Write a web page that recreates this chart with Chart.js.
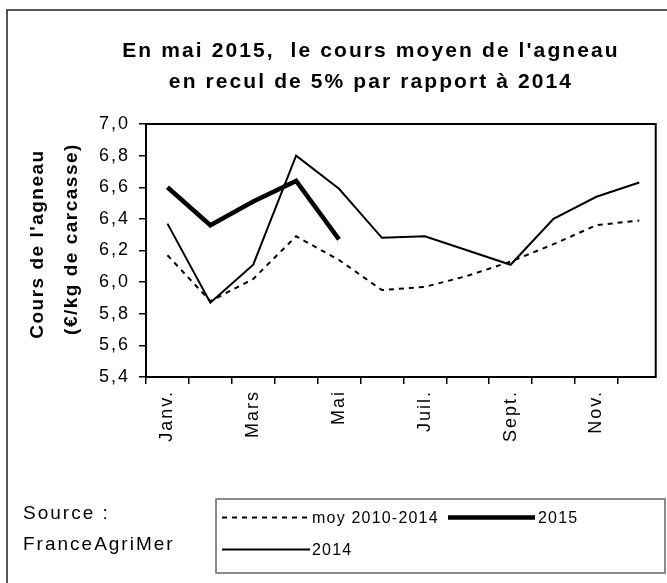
<!DOCTYPE html>
<html>
<head>
<meta charset="utf-8">
<script src="https://cdn.jsdelivr.net/npm/chart.js@4"></script>
<style>
  body { margin: 0; background: #fff; }
  canvas { display: block; }
</style>
</head>
<body>
<canvas id="agneauChart" width="667" height="583"></canvas>
<script>
// Données (€/kg de carcasse)
var mois = ['Janv.', 'Févr.', 'Mars', 'Avr.', 'Mai', 'Juin', 'Juil.', 'Août', 'Sept.', 'Oct.', 'Nov.', 'Déc.'];
var moisAffiches = ['Janv.', '', 'Mars', '', 'Mai', '', 'Juil.', '', 'Sept.', '', 'Nov.', ''];
var moy20102014 = [6.17, 5.88, 6.02, 6.29, 6.14, 5.95, 5.97, 6.04, 6.13, 6.24, 6.36, 6.39];
var cours2015 = [6.60, 6.36, 6.51, 6.64, 6.27, null, null, null, null, null, null, null];
var cours2014 = [6.37, 5.87, 6.11, 6.80, 6.59, 6.28, 6.29, 6.20, 6.11, 6.40, 6.54, 6.63];
var yMin = 5.4, yMax = 7.0, yPas = 0.2;

var titre = ["En mai 2015,  le cours moyen de l'agneau", "en recul de 5% par rapport à 2014"];
var titreAxe = ["Cours de l'agneau", "(€/kg de carcasse)"];
var source = ['Source :', 'FranceAgriMer'];
var legende = ['moy 2010-2014', '2015', '2014'];

var police = "'Liberation Sans', Arial, sans-serif";

// Dessin du cadre, des titres, de la source et de la légende
var decor = {
    id: 'decor',
    beforeDraw: function(chart) {
        chart.ctx.letterSpacing = '2px';
    },
    afterDraw: function(chart) {
        var ctx = chart.ctx;
        var a = chart.chartArea;
        ctx.save();

        // cadre extérieur (coupé à droite et en bas)
        ctx.strokeStyle = '#222';
        ctx.lineWidth = 1.5;
        ctx.beginPath();
        ctx.moveTo(7, 583);
        ctx.lineTo(7, 10);
        ctx.lineTo(667, 10);
        ctx.stroke();

        // cadre de la zone de tracé
        ctx.strokeStyle = '#000';
        ctx.lineWidth = 2;
        ctx.strokeRect(a.left, a.top, a.right - 5 - a.left, a.bottom - a.top);

        ctx.fillStyle = '#000';

        // titre
        ctx.font = 'bold 21px ' + police;
        ctx.letterSpacing = '2.1px';
        ctx.textAlign = 'center';
        ctx.textBaseline = 'alphabetic';
        ctx.fillText(titre[0], 371, 57);
        ctx.fillText(titre[1], 371, 88);

        // titre de l'axe vertical
        ctx.font = 'bold 19px ' + police;
        ctx.letterSpacing = '1.5px';
        ctx.textBaseline = 'middle';
        ctx.save();
        ctx.translate(38, 244);
        ctx.rotate(-Math.PI / 2);
        ctx.fillText(titreAxe[0], 0, 0);
        ctx.restore();
        ctx.save();
        ctx.translate(72, 239);
        ctx.rotate(-Math.PI / 2);
        ctx.fillText(titreAxe[1], 0, 0);
        ctx.restore();

        // source
        ctx.font = '19px ' + police;
        ctx.letterSpacing = '2px';
        ctx.textAlign = 'left';
        ctx.textBaseline = 'alphabetic';
        ctx.fillText(source[0], 23, 519);
        ctx.fillText(source[1], 23, 550);

        // légende
        ctx.strokeStyle = '#666';
        ctx.lineWidth = 1.5;
        ctx.strokeRect(216, 499, 449, 74);

        var ds = chart.data.datasets;
        var lignes = [
            { x1: 222, x2: 307, y: 517.5, tx: 312, d: ds[0], t: legende[0] },
            { x1: 448, x2: 535, y: 517.5, tx: 538, d: ds[1], t: legende[1] },
            { x1: 222, x2: 310, y: 549.5, tx: 312, d: ds[2], t: legende[2] }
        ];
        ctx.font = '16px ' + police;
        ctx.letterSpacing = '1.2px';
        ctx.textBaseline = 'middle';
        lignes.forEach(function(l) {
            ctx.strokeStyle = l.d.borderColor;
            ctx.lineWidth = l.d.borderWidth;
            ctx.setLineDash(l.d.borderDash || []);
            ctx.beginPath();
            ctx.moveTo(l.x1, l.y);
            ctx.lineTo(l.x2, l.y);
            ctx.stroke();
            ctx.setLineDash([]);
            ctx.fillText(l.t, l.tx, l.y + 1);
        });

        ctx.restore();
        ctx.letterSpacing = '0px';
    }
};

var ctx = document.getElementById('agneauChart').getContext('2d');
var agneauChart = new Chart(ctx, {
    type: 'line',
    data: {
        labels: mois,
        datasets: [{
            label: legende[0],
            data: moy20102014,
            borderColor: '#000',
            borderWidth: 2,
            borderDash: [5, 5],
            pointRadius: 0,
            tension: 0
        },
        {
            label: legende[1],
            data: cours2015,
            borderColor: '#000',
            borderWidth: 4.5,
            pointRadius: 0,
            tension: 0,
            spanGaps: false
        },
        {
            label: legende[2],
            data: cours2014,
            borderColor: '#000',
            borderWidth: 2,
            pointRadius: 0,
            tension: 0
        }]
    },
    options: {
        responsive: false,
        devicePixelRatio: 1,
        animation: false,
        layout: {
            padding: { top: 124, right: 3, bottom: 106, left: 0 }
        },
        plugins: {
            legend: { display: false },
            title: { display: false },
            tooltip: { enabled: false }
        },
        scales: {
            x: {
                offset: true,
                border: { display: false },
                grid: {
                    offset: true,
                    drawOnChartArea: false,
                    tickLength: 7,
                    lineWidth: 1.5,
                    color: function(c) { return c.type === 'tick' ? '#000' : 'rgba(0,0,0,0)'; }
                },
                ticks: {
                    autoSkip: false,
                    minRotation: 90,
                    maxRotation: 90,
                    padding: 6,
                    color: '#000',
                    font: { family: police, size: 18 },
                    callback: function(v, i) { return moisAffiches[i]; }
                },
                afterFit: function(scale) { scale.height = 100; }
            },
            y: {
                min: yMin,
                max: yMax,
                border: { display: false },
                grid: {
                    drawOnChartArea: false,
                    tickLength: 7,
                    lineWidth: 1.5,
                    color: '#000'
                },
                ticks: {
                    stepSize: yPas,
                    padding: 9,
                    color: '#000',
                    font: { family: police, size: 18 },
                    callback: function(v) { return v.toFixed(1).replace('.', ','); }
                },
                afterFit: function(scale) { scale.width = 146; }
            }
        }
    },
    plugins: [decor]
});
</script>
</body>
</html>
